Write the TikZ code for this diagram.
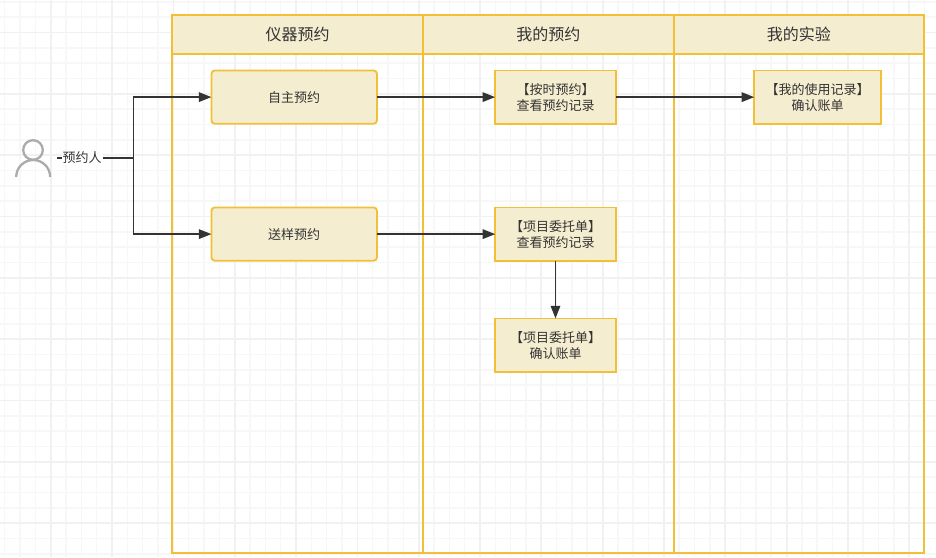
\documentclass[tikz,border=0pt]{standalone}
\usepackage{fontspec}
\setmainfont{Noto Sans CJK SC}
\usetikzlibrary{arrows.meta}
\definecolor{laneedge}{HTML}{F2C037}
\definecolor{lanefill}{HTML}{F5EDD0}
\definecolor{ink}{HTML}{333333}
\definecolor{minorgrid}{HTML}{F7F7F7}
\definecolor{majorgrid}{HTML}{F1F1F1}
\definecolor{actorgrey}{HTML}{ABABAB}
\newcommand{\lb}{\kern-6.5pt【}
\newcommand{\rb}{】\kern-6.5pt}
\tikzset{
  lanebody/.style={draw=laneedge,line width=2pt,fill=none,minimum width=250.7pt,minimum height=538.5pt,anchor=north west,inner sep=0pt,outer sep=0pt},
  lanehead/.style={draw=laneedge,line width=2pt,fill=lanefill,minimum width=250.7pt,minimum height=39pt,anchor=north west,inner sep=0pt,outer sep=0pt,text=ink,font=\fontsize{16}{19}\selectfont},
  taskbox/.style={draw=laneedge,line width=1.8pt,fill=lanefill,anchor=north west,inner sep=0pt,outer sep=0pt,minimum height=53.4pt,align=center,text=ink,font=\fontsize{13}{15.5}\selectfont,text depth=0pt},
  roundtask/.style={taskbox,rounded corners=3.5pt,minimum width=165.6pt},
  squaretask/.style={taskbox,minimum width=120.6pt},
  flow/.style={draw=ink,line width=1.5pt,-{Triangle[length=12.5pt,width=9.5pt]}},
  plainflow/.style={draw=ink,line width=1.5pt},
}
\begin{document}
\begin{tikzpicture}[x=1pt,y=-1pt]
\useasboundingbox (0,0) rectangle (936,557);
\fill[white] (0,0) rectangle (936,557);
% grid
\foreach \i in {0,...,61} {\draw[minorgrid,line width=1.5pt] ({4.7+15.33*\i},0) -- ({4.7+15.33*\i},557);}
\foreach \i in {0,...,36} {\draw[minorgrid,line width=1.5pt] (0,{1.9+15.33*\i}) -- (936,{1.9+15.33*\i});}
\foreach \i in {0,...,15} {\draw[majorgrid,line width=1.7pt] ({50.7+61.33*\i},0) -- ({50.7+61.33*\i},557);}
\foreach \i in {0,...,9} {\draw[majorgrid,line width=1.7pt] (0,{32.5+61.33*\i}) -- (936,{32.5+61.33*\i});}
% lanes
\node[lanebody] (lane1) at (172.2,14.5) {};
\node[lanebody] (lane2) at (422.9,14.5) {};
\node[lanebody] (lane3) at (673.6,14.5) {};
\node[lanehead] (head1) at (172.2,14.5) {仪器预约};
\node[lanehead] (head2) at (422.9,14.5) {我的预约};
\node[lanehead] (head3) at (673.6,14.5) {我的实验};
% actor
\coordinate (actorout) at (57,158);
\coordinate (split) at (133.5,158);
\draw[actorgrey,line width=2.3pt] (33,150) circle (9.8pt);
\draw[actorgrey,line width=2.3pt] (16.2,177) arc[start angle=180,end angle=0,radius=17pt];
% tasks
\node[roundtask] (self) at (211.4,70.4) {自主预约};
\node[roundtask] (sample) at (211.4,207.4) {送样预约};
\node[squaretask] (timed) at (495.2,70.4) {\lb 按时预约\rb\\查看预约记录};
\node[squaretask] (entrust) at (495.2,207.4) {\lb 项目委托单\rb\\查看预约记录};
\node[squaretask] (bill) at (495.2,318.4) {\lb 项目委托单\rb\\确认账单};
\node[taskbox,minimum width=127pt] (record) at (754.2,70.4) {\lb 我的使用记录\rb\\确认账单};
% connectors
\draw[plainflow] (actorout) -- (split);
\draw[flow] (split) |- (self.west);
\draw[flow] (split) |- (sample.west);
\draw[flow] (self) -- (timed);
\draw[flow] (timed) -- (record);
\draw[flow] (sample) -- (entrust);
\draw[flow] (entrust) -- (bill);
\node[fill=white,inner sep=1pt,text=ink,font=\fontsize{13}{15.5}\selectfont] (actorlabel) at (82,158) {预约人};
\end{tikzpicture}
\end{document}
